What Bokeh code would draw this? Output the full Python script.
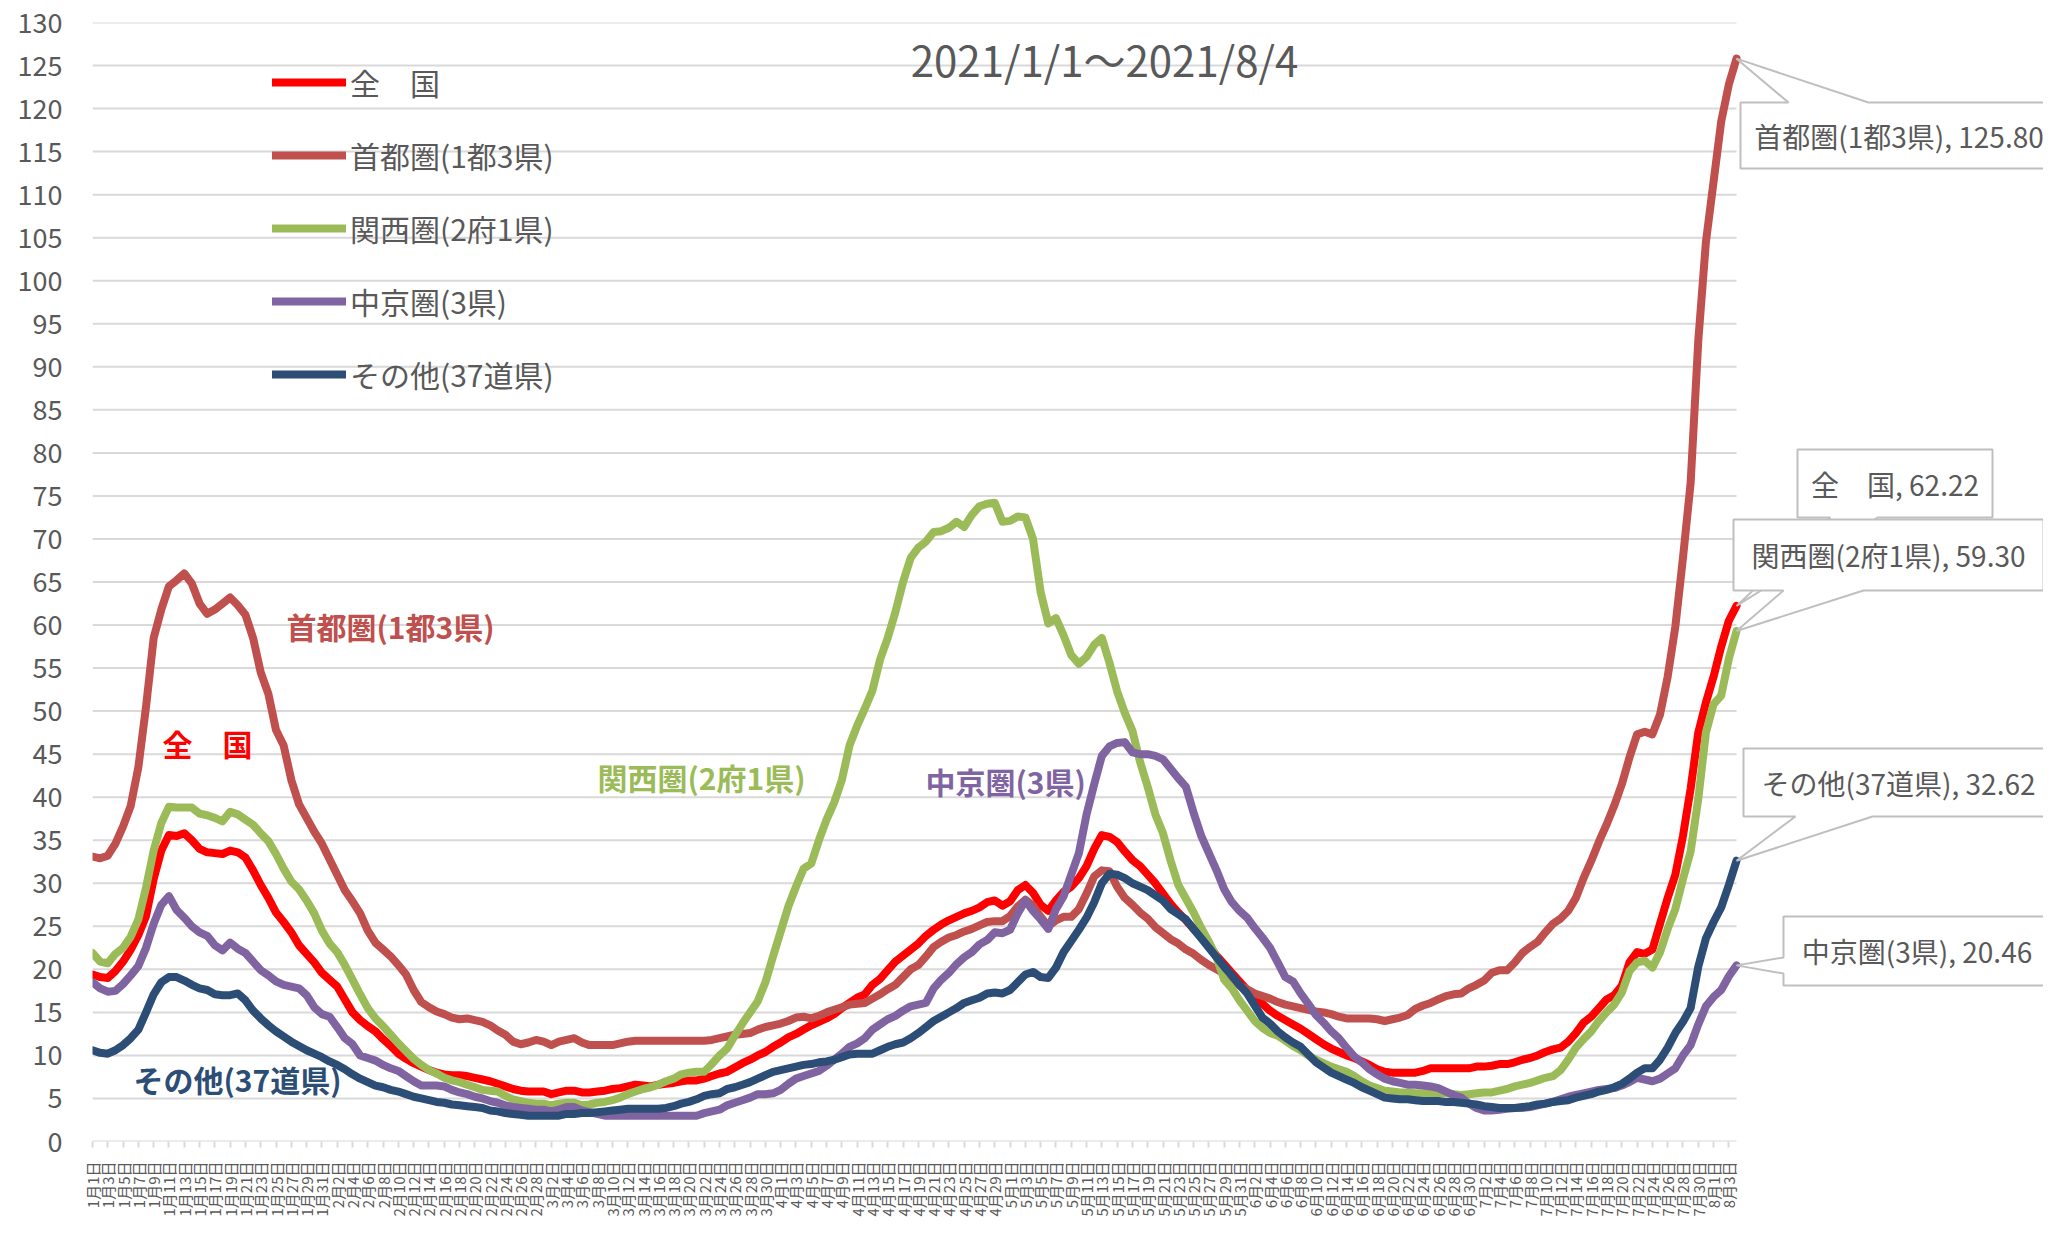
import pandas as pd
from math import pi
from bokeh.plotting import figure
from bokeh.models import Range1d, FixedTicker, Legend, LegendItem, Label
from bokeh.embed import file_html
from bokeh.resources import INLINE

# ---------------- data ----------------
dates = pd.date_range("2021-01-01", "2021-08-04", freq="D")
day_labels = [f"{d.month}月{d.day}日" for d in dates]
x = list(range(len(dates)))

national = [
    19.4, 19.1, 19.0, 19.8, 20.9, 22.3, 24.0, 26.2, 30.5, 33.8,
    35.6, 35.5, 35.8, 35.0, 34.0, 33.6, 33.5, 33.4, 33.8, 33.6,
    33.0, 31.5, 29.8, 28.3, 26.6, 25.5, 24.3, 22.8, 21.8, 20.8,
    19.6, 18.8, 18.0, 16.5, 15.0, 14.1, 13.4, 12.8, 11.9, 11.1,
    10.2, 9.6, 9.1, 8.7, 8.3, 8.0, 7.8, 7.7, 7.7, 7.6,
    7.4, 7.2, 7.0, 6.7, 6.4, 6.1, 5.9, 5.8, 5.8, 5.8,
    5.5, 5.7, 5.9, 5.9, 5.7, 5.7, 5.8, 5.9, 6.1, 6.2,
    6.4, 6.6, 6.5, 6.4, 6.6, 6.7, 6.8, 7.0, 7.1, 7.1,
    7.3, 7.6, 7.9, 8.1, 8.6, 9.1, 9.5, 10.0, 10.4, 11.0,
    11.5, 12.1, 12.5, 13.0, 13.5, 13.9, 14.3, 14.8, 15.5, 16.1,
    16.7, 17.1, 18.2, 18.9, 19.9, 20.9, 21.6, 22.3, 23.0, 23.9,
    24.6, 25.2, 25.7, 26.1, 26.5, 26.8, 27.2, 27.8, 28.0,
    27.4, 27.9, 29.2, 29.8, 28.9, 27.5, 26.8, 28.0, 29.0, 29.6,
    30.6, 32.0, 34.0, 35.6, 35.4, 34.8, 33.7, 32.7, 32.0, 31.0,
    30.0, 28.8, 27.6, 26.6, 25.7, 24.7, 23.8, 22.7, 21.6, 20.6,
    19.6, 18.6, 17.6, 16.9, 16.0, 15.2, 14.6, 14.1, 13.6, 13.1,
    12.5, 11.9, 11.3, 10.8, 10.4, 10.0, 9.7, 9.3, 8.9, 8.4,
    8.1, 8.0, 8.0, 8.0,
    8.0, 8.2, 8.5, 8.5, 8.5, 8.5, 8.5, 8.5, 8.7, 8.7,
    8.8, 9.0, 9.0, 9.2, 9.5, 9.7, 10.0, 10.4, 10.7, 10.9,
    11.6, 12.6, 13.8, 14.5, 15.5, 16.5, 17.0, 18.1, 20.8, 22.0,
    21.8, 22.3, 25.3, 28.3, 31.0, 35.5, 41.0, 47.5, 51.0, 54.0,
    57.5, 60.5, 62.22,
]

capital = [
    33.1, 32.9, 33.2, 34.6, 36.6, 39.0, 43.5, 50.5, 58.5, 61.8,
    64.5, 65.2, 66.0, 64.8, 62.5, 61.3, 61.8, 62.5, 63.2, 62.3,
    61.2, 58.5, 54.5, 52.0, 47.8, 46.0, 42.0, 39.2, 37.6, 36.0,
    34.6, 32.8, 31.0, 29.2, 27.9, 26.5, 24.5, 23.1, 22.3, 21.5,
    20.5, 19.4, 17.6, 16.2, 15.6, 15.1, 14.8, 14.4, 14.2, 14.3,
    14.1, 13.9, 13.5, 12.9, 12.4, 11.6, 11.3, 11.5, 11.8, 11.6,
    11.2, 11.6, 11.8, 12.0, 11.5, 11.2, 11.2, 11.2, 11.2, 11.4,
    11.6, 11.7, 11.7, 11.7, 11.7, 11.7, 11.7, 11.7, 11.7, 11.7,
    11.7, 11.8, 12.0, 12.2, 12.4, 12.5, 12.6, 13.0, 13.3, 13.5,
    13.7, 14.0, 14.4, 14.5, 14.3, 14.6, 15.0, 15.3, 15.6, 15.9,
    16.0, 16.1, 16.6, 17.1, 17.7, 18.2, 19.1, 20.0, 20.5, 21.5,
    22.6, 23.2, 23.7, 24.0, 24.4, 24.7, 25.1, 25.5, 25.6,
    25.6, 26.2, 27.3, 28.1, 27.4, 26.1, 25.0, 25.7, 26.1, 26.1,
    27.0, 28.8, 30.8, 31.5, 31.4, 29.6, 28.3, 27.5, 26.6, 25.9,
    24.9, 24.2, 23.5, 23.0, 22.3, 21.8, 21.1, 20.5, 20.0, 19.5,
    18.8, 18.1, 17.7, 17.2, 16.9, 16.6, 16.2, 15.9, 15.7, 15.5,
    15.3, 15.1, 15.0, 14.8, 14.5, 14.3, 14.3, 14.3, 14.3, 14.2,
    14.0, 14.2, 14.4, 14.7,
    15.4, 15.8, 16.1, 16.5, 16.9, 17.1, 17.2, 17.8, 18.2, 18.7,
    19.6, 19.9, 19.9, 20.8, 21.9, 22.6, 23.2, 24.3, 25.3, 25.9,
    26.8, 28.3, 30.6, 32.6, 34.8, 36.8, 39.0, 41.5, 44.6, 47.3,
    47.6, 47.3, 49.6, 54.0, 59.8, 67.8, 76.5, 93.0, 104.5, 111.5,
    118.5, 122.8, 125.80,
]

kansai = [
    21.9, 20.9, 20.7, 21.8, 22.5, 23.8, 25.8, 29.5, 33.8, 37.0,
    38.9, 38.8, 38.8, 38.8, 38.1, 37.9, 37.6, 37.2, 38.3, 38.0,
    37.4, 36.8, 35.8, 34.9, 33.4, 31.7, 30.2, 29.3, 28.0, 26.5,
    24.5, 23.0, 22.0, 20.5, 18.8, 17.1, 15.5, 14.3, 13.4, 12.4,
    11.4, 10.5, 9.6, 8.9, 8.3, 7.9, 7.4, 7.1, 6.9, 6.6,
    6.3, 6.0, 5.9, 5.8, 5.3, 4.9, 4.7, 4.5, 4.4, 4.4,
    4.2, 4.4, 4.5, 4.5, 4.2, 4.3, 4.5, 4.6, 4.8, 5.1,
    5.5, 5.8, 6.1, 6.3, 6.6, 7.0, 7.3, 7.8, 8.0, 8.1,
    8.1, 9.0, 10.0, 10.8, 12.3, 13.7, 15.0, 16.3, 18.5, 21.5,
    24.4, 27.3, 29.6, 31.7, 32.3, 35.0, 37.4, 39.4, 42.0, 46.0,
    48.3, 50.3, 52.4, 56.0, 58.5, 61.5, 65.0, 67.8, 69.0, 69.7,
    70.8, 70.9, 71.3, 72.0, 71.4, 72.8, 73.8, 74.1, 74.2,
    72.0, 72.1, 72.6, 72.5, 70.0, 63.8, 60.2, 60.8, 58.8, 56.5,
    55.5, 56.3, 57.7, 58.5, 55.6, 52.3, 49.8, 47.7, 44.1, 41.2,
    38.0, 35.8, 32.6, 29.8, 28.2, 26.6, 24.8, 23.2, 21.4, 18.8,
    17.8, 16.4, 15.2, 14.0, 13.2, 12.6, 12.3, 11.7, 11.1, 10.6,
    10.0, 9.5, 9.1, 8.7, 8.4, 8.1, 7.6, 7.0, 6.5, 6.2,
    5.9, 5.8, 5.7, 5.7,
    5.6, 5.6, 5.6, 5.6, 5.6, 5.5, 5.4, 5.5, 5.6, 5.7,
    5.7, 5.9, 6.1, 6.4, 6.6, 6.8, 7.1, 7.4, 7.6, 8.3,
    9.5, 10.9, 11.9, 12.8, 14.0, 15.0, 15.9, 17.3, 19.8, 20.8,
    21.0, 20.2, 22.0, 24.7, 27.0, 30.5, 33.7, 39.8, 47.5, 50.8,
    51.8, 56.1, 59.30,
]

chukyo = [
    18.5, 17.8, 17.4, 17.5, 18.3, 19.3, 20.4, 22.5, 25.3, 27.5,
    28.5, 26.9, 26.0, 25.0, 24.3, 23.9, 22.8, 22.2, 23.1, 22.4,
    21.9, 20.9, 19.9, 19.3, 18.6, 18.2, 18.0, 17.8, 17.0, 15.6,
    14.8, 14.5, 13.3, 12.0, 11.3, 10.0, 9.7, 9.4, 8.9, 8.5,
    8.2, 7.6, 7.0, 6.5, 6.5, 6.5, 6.4, 6.0, 5.7, 5.5,
    5.2, 5.0, 4.7, 4.5, 4.2, 4.0, 3.9, 3.8, 3.7, 3.7,
    3.5, 3.7, 4.0, 4.0, 3.6, 3.4, 3.2, 3.0, 3.0, 3.0,
    3.0, 3.0, 3.0, 3.0, 3.0, 3.0, 3.0, 3.0, 3.0, 3.0,
    3.3, 3.5, 3.7, 4.2, 4.5, 4.8, 5.1, 5.5, 5.5, 5.6,
    6.0, 6.7, 7.3, 7.6, 7.9, 8.2, 8.8, 9.5, 10.2, 11.0,
    11.4, 12.0, 13.0, 13.6, 14.2, 14.6, 15.2, 15.7, 15.9, 16.1,
    17.8, 18.8, 19.6, 20.6, 21.4, 22.0, 22.9, 23.4, 24.3,
    24.2, 24.6, 26.5, 28.0, 26.8, 25.8, 24.7, 27.0, 28.5, 31.0,
    33.5, 38.0, 41.5, 44.8, 45.9, 46.3, 46.4, 45.2, 45.0, 45.0,
    44.8, 44.4, 43.3, 42.2, 41.2, 38.2, 35.5, 33.5, 31.5, 29.3,
    27.8, 26.8, 26.0, 24.8, 23.7, 22.5, 20.8, 19.1, 18.6, 17.2,
    16.0, 14.7, 13.8, 12.8, 12.0, 10.9, 9.9, 9.2, 8.4, 7.8,
    7.3, 7.0, 6.8, 6.6,
    6.6, 6.5, 6.4, 6.2, 5.8, 5.4, 5.1, 4.4, 3.9, 3.6,
    3.6, 3.7, 3.8, 3.9, 3.9, 4.0, 4.2, 4.4, 4.6, 4.9,
    5.2, 5.4, 5.6, 5.8, 6.0, 6.1, 6.2, 6.5, 6.9, 7.4,
    7.2, 7.0, 7.3, 7.9, 8.5, 10.0, 11.2, 13.6, 15.7, 16.8,
    17.6, 19.2, 20.46,
]

others = [
    10.6, 10.3, 10.2, 10.6, 11.2, 12.0, 13.0, 15.0, 17.1, 18.5,
    19.1, 19.1, 18.7, 18.2, 17.8, 17.6, 17.1, 17.0, 17.0, 17.2,
    16.4, 15.2, 14.3, 13.5, 12.8, 12.2, 11.6, 11.1, 10.6, 10.2,
    9.8, 9.3, 8.9, 8.4, 7.8, 7.3, 6.9, 6.5, 6.3, 6.0,
    5.8, 5.5, 5.2, 5.0, 4.8, 4.6, 4.5, 4.3, 4.2, 4.1,
    4.0, 3.9, 3.6, 3.5, 3.3, 3.2, 3.1, 3.0, 3.0, 3.0,
    3.0, 3.0, 3.2, 3.2, 3.3, 3.3, 3.4, 3.5, 3.6, 3.7,
    3.8, 3.8, 3.8, 3.8, 3.8, 3.9, 4.1, 4.4, 4.6, 4.9,
    5.3, 5.5, 5.6, 6.1, 6.3, 6.6, 6.9, 7.3, 7.7, 8.1,
    8.3, 8.5, 8.7, 8.9, 9.0, 9.2, 9.3, 9.5, 9.8, 10.1,
    10.2, 10.2, 10.2, 10.6, 11.0, 11.3, 11.5, 12.0, 12.6, 13.3,
    14.0, 14.5, 15.0, 15.5, 16.1, 16.4, 16.7, 17.2, 17.3,
    17.2, 17.6, 18.5, 19.4, 19.7, 19.1, 19.0, 20.2, 22.0, 23.3,
    24.6, 26.0, 27.8, 30.0, 31.1, 31.0, 30.6, 30.0, 29.6, 29.2,
    28.6, 28.0, 27.0, 26.4, 25.8, 24.7, 23.6, 22.5, 21.4, 20.3,
    19.3, 18.2, 17.2, 15.8, 14.4, 13.7, 12.8, 12.1, 11.5, 11.0,
    10.1, 9.2, 8.6, 8.0, 7.6, 7.2, 6.8, 6.3, 5.9, 5.5,
    5.1, 5.0, 4.9, 4.9,
    4.8, 4.7, 4.7, 4.7, 4.6, 4.6, 4.5, 4.4, 4.3, 4.1,
    4.0, 3.9, 3.9, 3.9, 4.0, 4.1, 4.3, 4.4, 4.6, 4.7,
    4.8, 5.1, 5.3, 5.5, 5.8, 6.0, 6.3, 6.7, 7.3, 8.0,
    8.5, 8.5, 9.5, 10.9, 12.6, 13.9, 15.5, 20.3, 23.6, 25.5,
    27.2, 29.8, 32.62,
]

series_names = ["全　国", "首都圏(1都3県)", "関西圏(2府1県)", "中京圏(3県)", "その他(37道県)"]
series_values = [national, capital, kansai, chukyo, others]
series_colors = ["#FF0000", "#C0504D", "#9BBB59", "#8064A2", "#2C4D75"]
y_ticks = list(range(0, 131, 5))
title_text = "2021/1/1～2021/8/4"

for s in series_values:
    assert len(s) == len(x), len(s)

# ---------------- layout constants (canvas pixels) ----------------
W, H = 2043, 1220
LEFT, TOP, BOTTOM = 92, 22, 79
FRAME_W = W - LEFT
FRAME_H = H - TOP - BOTTOM
PX_DAY = 1644 / 215          # horizontal pixels per day
PX_UNIT = FRAME_H / 130      # vertical pixels per unit
X0_PX, Y0_PX = LEFT, TOP + FRAME_H  # canvas position of (day 0, value 0)


def px_x(cx):
    return (cx - X0_PX) / PX_DAY


def px_y(cy):
    return (Y0_PX - cy) / PX_UNIT


FONT = "Noto Sans CJK JP"
GREY_TXT = "#595959"
GRID = "#D9D9D9"

p = figure(width=W, height=H,
           x_range=Range1d(0, FRAME_W / PX_DAY),
           y_range=Range1d(0, 130),
           output_backend="svg", toolbar_location=None,
           min_border_left=LEFT, min_border_right=0,
           min_border_top=TOP, min_border_bottom=BOTTOM)
p.outline_line_color = None
p.background_fill_color = "white"
p.border_fill_color = "white"
p.xgrid.grid_line_color = None
p.ygrid.grid_line_color = None

# horizontal gridlines only over the data span
p.segment(x0=[x[0]] * len(y_ticks), x1=[x[-1]] * len(y_ticks),
          y0=y_ticks, y1=y_ticks, line_color=GRID, line_width=2)

# y axis
p.yaxis.ticker = FixedTicker(ticks=y_ticks)
p.yaxis.axis_line_color = None
p.yaxis.major_tick_line_color = None
p.yaxis.major_tick_out = 0
p.yaxis.major_tick_in = 0
p.yaxis.minor_tick_line_color = None
p.yaxis.major_label_standoff = 30
p.yaxis.major_label_text_font_size = "27px"
p.yaxis.major_label_text_color = GREY_TXT
p.yaxis.major_label_text_font = FONT

# x axis
tick_pos = x[::2]
p.xaxis.ticker = FixedTicker(ticks=tick_pos)
p.xaxis.major_label_overrides = {i: day_labels[i] for i in tick_pos}
p.xaxis.major_label_orientation = pi / 2
p.xaxis.axis_line_color = None
p.xaxis.major_tick_line_color = GRID
p.xaxis.major_tick_line_width = 2
p.xaxis.major_tick_out = 6
p.xaxis.major_tick_in = 0
p.xaxis.minor_tick_line_color = None
p.xaxis.major_label_standoff = 14
p.xaxis.major_label_text_font_size = "15px"
p.xaxis.major_label_text_color = GREY_TXT
p.xaxis.major_label_text_font = FONT

# series lines
renderers = []
for name, vals, col in zip(series_names, series_values, series_colors):
    r = p.line(x, vals, line_color=col, line_width=8,
               line_join="round", line_cap="round")
    renderers.append(r)

# legend
legend = Legend(items=[LegendItem(label=n, renderers=[r]) for n, r in zip(series_names, renderers)],
                location=(180, 745), orientation="vertical",
                glyph_width=74, glyph_height=44, label_height=44, spacing=29,
                label_standoff=4, padding=0, margin=0,
                border_line_color=None, background_fill_alpha=0,
                label_text_font_size="30px", label_text_color=GREY_TXT,
                label_text_font=FONT)
p.add_layout(legend)

# title
p.add_layout(Label(x=px_x(1104), y=px_y(58), text=title_text,
                   text_align="center", text_baseline="middle",
                   text_font=FONT, text_font_size="42px", text_color=GREY_TXT))

# in-plot bold series labels (canvas px of left edge / vertical centre)
inline_pos = [(162, 742), (286, 625), (597, 776), (925, 780), (133, 1078)]
for name, col, (lx, ly) in zip(series_names, series_colors, inline_pos):
    p.add_layout(Label(x=px_x(lx), y=px_y(ly), text=name,
                       text_align="left", text_baseline="middle",
                       text_font=FONT, text_font_style="bold",
                       text_font_size="30px", text_color=col))

# callout data labels at the last point: box (L, T, R, B) and pointer base
callouts = [
    (0, (1797, 449, 1992, 517), "bottom", (1830, 1877)),
    (2, (1733, 519, 2043, 590), "bottom", (1783, 1863)),
    (1, (1740, 102, 2057, 168), "top", (1788, 1868)),
    (4, (1743, 748, 2053, 816), "bottom", (1795, 1872)),
    (3, (1783, 916, 2050, 985), "left", (957, 973)),
]
for k, (L, T, R, B), side, (a, b) in callouts:
    tip = (x[-1], series_values[k][-1])
    TL, TR = (px_x(L), px_y(T)), (px_x(R), px_y(T))
    BR, BL = (px_x(R), px_y(B)), (px_x(L), px_y(B))
    if side == "top":
        pts = [TL, (px_x(a), px_y(T)), tip, (px_x(b), px_y(T)), TR, BR, BL]
    elif side == "bottom":
        pts = [TL, TR, BR, (px_x(b), px_y(B)), tip, (px_x(a), px_y(B)), BL]
    else:
        pts = [TL, TR, BR, BL, (px_x(L), px_y(b)), tip, (px_x(L), px_y(a))]
    p.patch([q[0] for q in pts], [q[1] for q in pts],
            fill_color="white", line_color="#BFBFBF", line_width=2)
    p.add_layout(Label(x=px_x((L + R) / 2), y=px_y((T + B) / 2),
                       text=f"{series_names[k]}, {series_values[k][-1]:.2f}",
                       text_align="center", text_baseline="middle",
                       text_font=FONT, text_font_size="28px", text_color=GREY_TXT))

open("out.html", "w").write(file_html(p, INLINE))
